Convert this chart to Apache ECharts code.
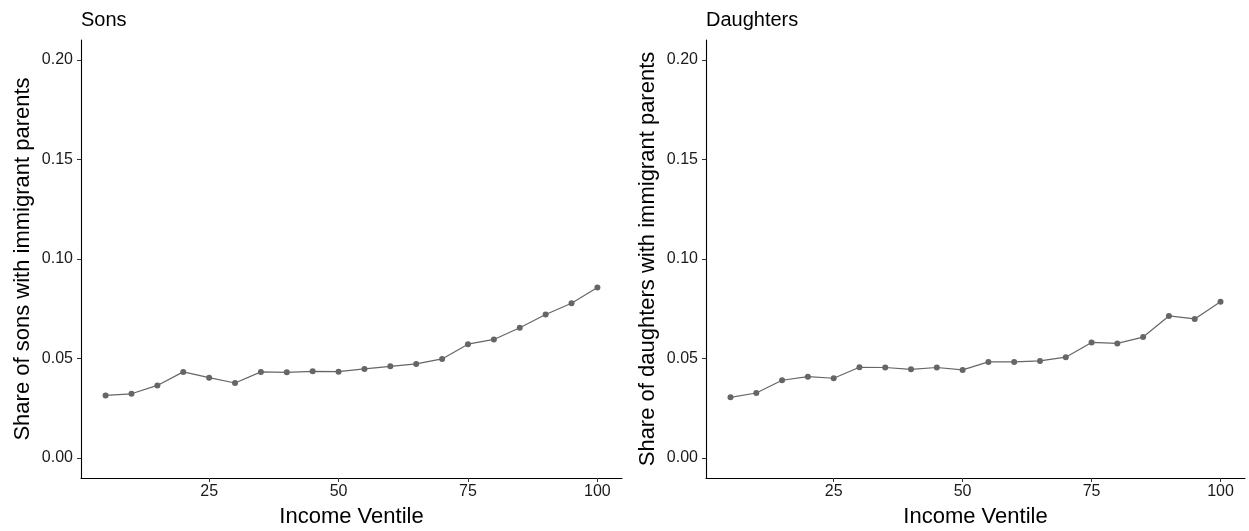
<!DOCTYPE html>
<html>
<head>
<meta charset="utf-8">
<script src="https://cdn.jsdelivr.net/npm/echarts@6/dist/echarts.min.js"></script>
<style>
html,body{margin:0;padding:0;background:#fff;}
#chart{width:1249px;height:531px;}
</style>
</head>
<body>
<div id="chart"></div>
<script>
const ventiles = [5,10,15,20,25,30,35,40,45,50,55,60,65,70,75,80,85,90,95,100];
const sonsShare = [0.0315,0.0323,0.0365,0.0433,0.0404,0.0377,0.0433,0.0431,0.0436,0.0434,0.0448,0.0461,0.0473,0.0498,0.0572,0.0596,0.0655,0.0721,0.0778,0.0857];
const daughtersShare = [0.0305,0.0327,0.0391,0.0409,0.0401,0.0456,0.0455,0.0446,0.0455,0.0443,0.0483,0.0483,0.0488,0.0507,0.0581,0.0576,0.0608,0.0714,0.0699,0.0785];
const xTicks = [25,50,75,100];
const yTicks = [0,0.05,0.10,0.15,0.20];
const panelTitles = ['Sons','Daughters'];
const yTitles = ['Share of sons with immigrant parents','Share of daughters with immigrant parents'];
const xTitle = 'Income Ventile';

const FONT = '"Liberation Sans", Arial, sans-serif';
const chart = echarts.init(document.getElementById('chart'), null, {renderer:'canvas'});

function xAxisCfg(i){
  return {
    type:'value', gridIndex:i, min:0.25, max:104.75,
    name:xTitle, nameLocation:'middle', nameGap:28,
    nameTextStyle:{fontFamily:FONT,fontSize:22,color:'#000'},
    axisLine:{onZero:false,lineStyle:{color:'#000',width:1.1}},
    axisTick:{show:true,length:4,customValues:xTicks,lineStyle:{color:'#333'}},
    axisLabel:{customValues:xTicks,fontFamily:FONT,fontSize:16,color:'#1a1a1a',margin:6},
    splitLine:{show:false}
  };
}
function yAxisCfg(i){
  return {
    type:'value', gridIndex:i, min:-0.01, max:0.21,
    name:yTitles[i], nameLocation:'middle', nameGap:47,
    nameTextStyle:{fontFamily:FONT,fontSize:22,color:'#000'},
    axisLine:{show:true,onZero:false,lineStyle:{color:'#000',width:1.1}},
    axisTick:{show:true,length:4,customValues:yTicks,lineStyle:{color:'#333'}},
    axisLabel:{customValues:yTicks,fontFamily:FONT,fontSize:16,color:'#1a1a1a',margin:8,
      formatter:v=>v.toFixed(2)},
    splitLine:{show:false}
  };
}
function seriesCfg(i,vals){
  return {
    type:'line', xAxisIndex:i, yAxisIndex:i,
    data:ventiles.map((v,k)=>[v,vals[k]]),
    symbol:'circle', symbolSize:6, showSymbol:true,
    lineStyle:{color:'#666',width:1.2},
    itemStyle:{color:'#666'},
    silent:true, animation:false
  };
}

chart.setOption({
  backgroundColor:'#fff',
  animation:false,
  title:[
    {text:panelTitles[0],left:81,top:10,padding:0,textStyle:{fontFamily:FONT,fontSize:20,fontWeight:'normal',color:'#000'}},
    {text:panelTitles[1],left:706,top:10,padding:0,textStyle:{fontFamily:FONT,fontSize:20,fontWeight:'normal',color:'#000'}}
  ],
  grid:[
    {left:81,top:40,width:541,height:438,outerBoundsMode:'none',containLabel:false},
    {left:706,top:40,width:539,height:438,outerBoundsMode:'none',containLabel:false}
  ],
  xAxis:[xAxisCfg(0),xAxisCfg(1)],
  yAxis:[yAxisCfg(0),yAxisCfg(1)],
  series:[seriesCfg(0,sonsShare),seriesCfg(1,daughtersShare)]
});
</script>
</body>
</html>
